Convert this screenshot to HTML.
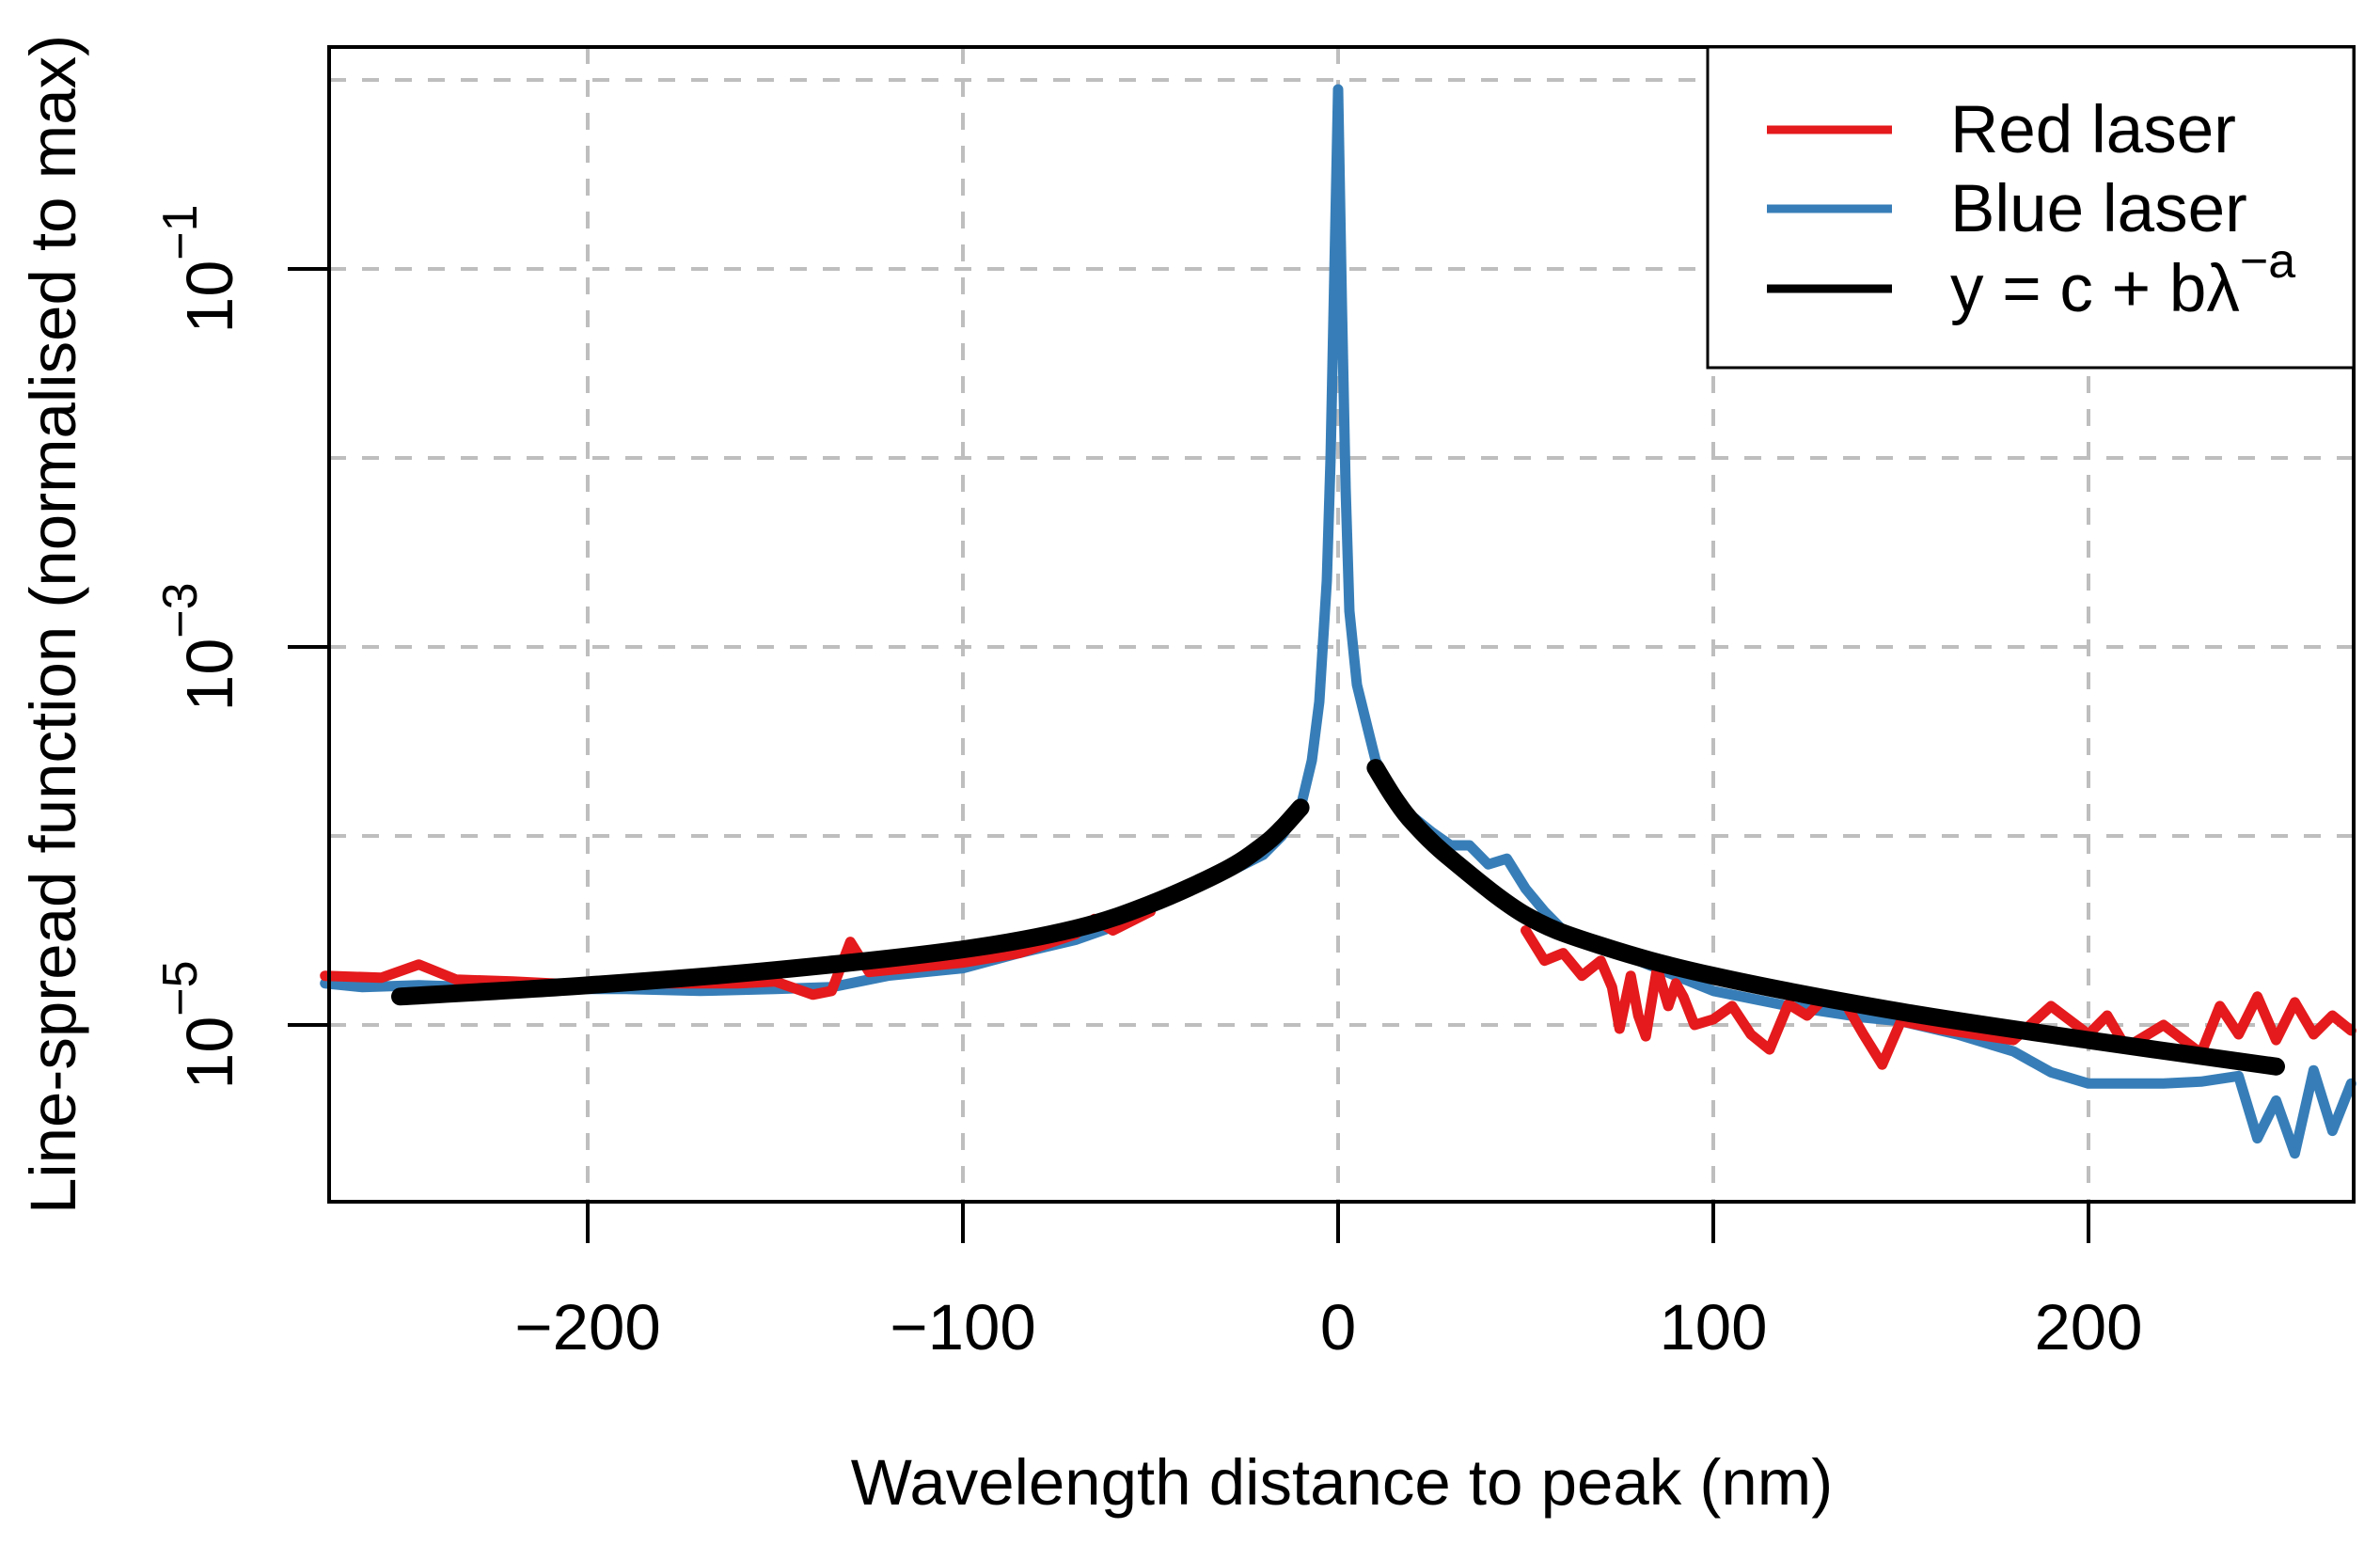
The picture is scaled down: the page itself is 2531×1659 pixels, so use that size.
<!DOCTYPE html>
<html><head><meta charset="utf-8"><style>
html,body{margin:0;padding:0;background:#fff}
svg{display:block;font-family:"Liberation Sans",sans-serif}
</style></head><body>
<svg id="chart" width="2531" height="1659" viewBox="0 0 2531 1659" xmlns="http://www.w3.org/2000/svg">
<g id="grid"></g>
<g id="series"></g>
<g id="axes"></g>
<text x="1427" y="1600" font-size="69" text-anchor="middle">Wavelength distance to peak (nm)</text>
<text transform="translate(80,664) rotate(-90)" font-size="69" text-anchor="middle">Line-spread function (normalised to max)</text>
<g>
<rect x="1816" y="50" width="687" height="341" fill="#fff" stroke="#000" stroke-width="3"/>
<line x1="1879" y1="138" x2="2012" y2="138" stroke="#e41a1c" stroke-width="9"/>
<text x="2074" y="162" font-size="71">Red laser</text>
<line x1="1879" y1="222" x2="2012" y2="222" stroke="#377eb8" stroke-width="9"/>
<text x="2074" y="246" font-size="71">Blue laser</text>
<line x1="1879" y1="307" x2="2012" y2="307" stroke="#000" stroke-width="9"/>
<text x="2074" y="331" font-size="71">y = c + bλ<tspan font-size="52" dy="-36">−a</tspan></text>
</g>
</svg>
<script>
// x in nm, y as log10 of normalised LSF
const xTicks=[-200,-100,0,100,200];
const xTickLabels=["−200","−100","0","100","200"];
const yGridExp=[0,-1,-2,-3,-4,-5];
const yTickExp=[-1,-3,-5];
const yTickLabels=["−1","−3","−5"];
const blueX=[-270,-260,-245,-230,-210,-190,-170,-150,-135,-120,-100,-85,-70,-60,-50,-45,-40,-30,-20,-15,-10,-7,-5,-3,-2,-1,0,1,2,3,5,8,10,15,20,25,30,35,40,45,50,55,60,70,80,90,100,120,140,150,165,180,190,200,210,220,230,240,245,250,255,260,265,270];
const blueY=[-4.78,-4.80,-4.79,-4.80,-4.81,-4.81,-4.82,-4.81,-4.80,-4.74,-4.70,-4.62,-4.55,-4.48,-4.38,-4.30,-4.28,-4.20,-4.10,-4.00,-3.85,-3.60,-3.29,-2.65,-2.00,-1.03,-0.05,-1.18,-2.16,-2.81,-3.20,-3.44,-3.60,-3.80,-3.90,-3.98,-4.05,-4.05,-4.15,-4.12,-4.28,-4.40,-4.50,-4.58,-4.66,-4.74,-4.82,-4.90,-4.96,-4.98,-5.05,-5.14,-5.25,-5.31,-5.31,-5.31,-5.30,-5.27,-5.60,-5.40,-5.68,-5.24,-5.56,-5.31];
const redLeftX=[-270,-255,-245,-235,-220,-200,-180,-160,-150,-140,-135,-130,-125,-115,-100,-85,-70,-65,-60,-50];
const redLeftY=[-4.74,-4.75,-4.68,-4.76,-4.77,-4.79,-4.78,-4.78,-4.77,-4.84,-4.82,-4.56,-4.72,-4.70,-4.67,-4.62,-4.52,-4.44,-4.50,-4.40];
const redRightX=[50,55,60,65,70,73,75,78,80,82,85,88,90,92,95,100,105,110,115,120,125,130,135,140,145,150,155,160,170,180,190,200,205,210,220,230,235,240,245,250,255,260,265,270];
const redRightY=[-4.50,-4.66,-4.62,-4.74,-4.66,-4.80,-5.02,-4.74,-4.95,-5.06,-4.70,-4.90,-4.78,-4.85,-5.00,-4.97,-4.90,-5.05,-5.13,-4.89,-4.95,-4.85,-4.88,-5.05,-5.21,-4.98,-5.00,-5.02,-5.05,-5.08,-4.90,-5.05,-4.95,-5.12,-5.00,-5.15,-4.90,-5.05,-4.85,-5.08,-4.88,-5.05,-4.95,-5.03];
const fitLeftX=[-250,-200,-150,-100,-70,-50,-30,-20,-15,-10];
const fitLeftY=[-4.85,-4.79,-4.71,-4.60,-4.49,-4.36,-4.18,-4.05,-3.96,-3.85];
const fitRightX=[10,15,20,30,50,70,100,150,200,250];
const fitRightY=[-3.64,-3.80,-3.93,-4.12,-4.42,-4.58,-4.74,-4.93,-5.08,-5.22];

const NS="http://www.w3.org/2000/svg";
const L=350,R=2503,T=50,B=1278;
function X(v){return 1423+v*3.99;}
function Y(e){return 1090-(e+5)*201;}
function mk(tag,parent,attrs){const e=document.createElementNS(NS,tag);for(const k in attrs)e.setAttribute(k,attrs[k]);parent.appendChild(e);return e;}
const grid=document.getElementById('grid'),series=document.getElementById('series'),axes=document.getElementById('axes');
const gs={stroke:"#bebebe","stroke-width":4,"stroke-dasharray":"18 17",fill:"none"};
xTicks.forEach(v=>{const l=mk('line',grid,Object.assign({x1:X(v),x2:X(v),y1:T,y2:B},gs));

});
yGridExp.forEach(e=>{const l=mk('line',grid,Object.assign({x1:L,x2:R,y1:Y(e),y2:Y(e)},gs));

});
function path(xs,ys,color,w,name,smooth){
  const P=xs.map((x,i)=>[X(x),Y(ys[i])]);
  let d="M"+P[0][0].toFixed(1)+","+P[0][1].toFixed(1);
  for(let i=1;i<P.length;i++){
    if(smooth){
      const p0=P[Math.max(0,i-2)],p1=P[i-1],p2=P[i],p3=P[Math.min(P.length-1,i+1)];
      const c1=[p1[0]+(p2[0]-p0[0])/6,p1[1]+(p2[1]-p0[1])/6],c2=[p2[0]-(p3[0]-p1[0])/6,p2[1]-(p3[1]-p1[1])/6];
      d+="C"+c1[0].toFixed(1)+","+c1[1].toFixed(1)+" "+c2[0].toFixed(1)+","+c2[1].toFixed(1)+" "+p2[0].toFixed(1)+","+p2[1].toFixed(1);
    } else d+="L"+P[i][0].toFixed(1)+","+P[i][1].toFixed(1);
  }
  const p=mk('path',series,{d:d,fill:"none",stroke:color,"stroke-width":w,"stroke-linejoin":"round","stroke-linecap":"round"});
  
  
}
path(blueX,blueY,"#377eb8",11,"blue-laser-line",false);
path(redLeftX,redLeftY,"#e41a1c",11,"red-laser-line-left",false);
path(redRightX,redRightY,"#e41a1c",11,"red-laser-line-right",false);
path(fitLeftX,fitLeftY,"#000",19,"fit-line-left",true);
path(fitRightX,fitRightY,"#000",19,"fit-line-right",true);
const box=mk('rect',axes,{x:L,y:T,width:R-L,height:B-T,fill:"none",stroke:"#000","stroke-width":4});


xTicks.forEach((v,i)=>{const t=mk('line',axes,{x1:X(v),x2:X(v),y1:B,y2:B+44,stroke:"#000","stroke-width":4});


const tx=mk('text',axes,{x:X(v),y:1435,"font-size":69,"text-anchor":"middle"});tx.textContent=xTickLabels[i];

});
yTickExp.forEach((e,i)=>{const t=mk('line',axes,{x1:L-44,x2:L,y1:Y(e),y2:Y(e),stroke:"#000","stroke-width":4});


const tx=mk('text',axes,{transform:"translate(247,"+Y(e)+") rotate(-90)","font-size":70,"text-anchor":"middle"});
const a=mk('tspan',tx,{});a.textContent="10";
const b=mk('tspan',tx,{"font-size":52,dy:-38});b.textContent=yTickLabels[i];

});
</script>
</body></html>
